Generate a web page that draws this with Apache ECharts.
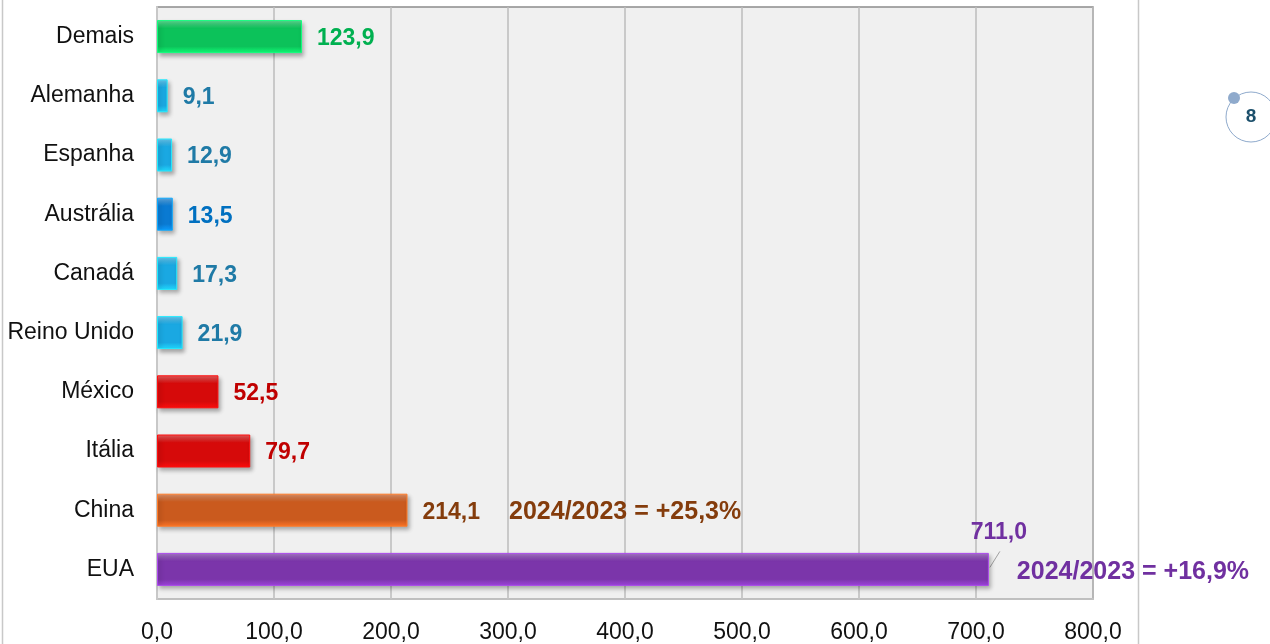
<!DOCTYPE html>
<html>
<head>
<meta charset="utf-8">
<script src="https://cdn.jsdelivr.net/npm/echarts@6/dist/echarts.min.js"></script>
<style>
  html, body { margin: 0; padding: 0; background: #fff; }
  #chart { width: 1270px; height: 644px; }
</style>
</head>
<body>
<div id="chart"></div>
<script>
// 数据:自上而下的类目与数值
var categories = ["Demais", "Alemanha", "Espanha", "Austrália", "Canadá", "Reino Unido", "México", "Itália", "China", "EUA"];
var values = [123.9, 9.1, 12.9, 13.5, 17.3, 21.9, 52.5, 79.7, 214.1, 711.0];
var xTicks = [0, 100, 200, 300, 400, 500, 600, 700, 800];
var growthChina = "2024/2023 = +25,3%";
var growthEUA = "2024/2023 = +16,9%";

// 样式:柱体颜色与标签颜色(与类目一一对应)
var barColors = ["#0cc25a", "#1aa8e2", "#1aa8e2", "#0a7ad2", "#1aa8e2", "#1aa8e2", "#d60a0a", "#d60a0a", "#ca5a1e", "#7b35aa"];
var labelColors = ["#00b050", "#1f7aa6", "#1f7aa6", "#0070c0", "#1f7aa6", "#1f7aa6", "#c00000", "#c00000", "#843c0c", "#7030a0"];

var FONT = "'Liberation Sans', Arial, sans-serif";

function fmt(v) { return v.toFixed(1).replace(".", ","); }

// 浅色→原色→深色的纵向渐变,模拟斜角立体柱
function bevel(c) {
  return new echarts.graphic.LinearGradient(0, 0, 0, 1, [
    { offset: 0, color: echarts.color.lift(c, 0.35) },
    { offset: 0.25, color: c },
    { offset: 0.8, color: c },
    { offset: 1, color: echarts.color.lift(c, -0.3) }
  ]);
}

var chart = echarts.init(document.getElementById("chart"), null, { renderer: "canvas" });

var seriesData = values.map(function (v, i) {
  var item = {
    value: v,
    itemStyle: { color: bevel(barColors[i]), borderColor: echarts.color.lift(barColors[i], -0.4), borderWidth: 1 },
    label: { color: labelColors[i] }
  };
  if (categories[i] === "China") {
    item.label.formatter = "{v|" + fmt(v) + "}{g|}{a|" + growthChina + "}";
  }
  if (categories[i] === "EUA") {
    item.label.formatter = "{a|" + growthEUA + "}";
    item.label.distance = 28;
    item.label.offset = [0, 3];
  }
  return item;
});

var option = {
  backgroundColor: "#fff",
  animation: false,
  grid: { left: 157, right: 177, top: 7, bottom: 44, show: true,
    backgroundColor: "#f0f0f0", borderColor: "#8c8c8c", borderWidth: 1.5 },
  xAxis: {
    type: "value", min: 0, max: 800, interval: 100,
    axisLine: { show: true, lineStyle: { color: "#c8c8c8", width: 1.5 } },
    axisTick: { show: false },
    axisLabel: { color: "#111", fontFamily: FONT, fontSize: 23, margin: 22,
      formatter: function (v) { return fmt(v); } },
    splitLine: { lineStyle: { color: "#bdbdbd", width: 1.5 } }
  },
  yAxis: {
    type: "category", data: categories, inverse: true,
    axisLine: { show: true, lineStyle: { color: "#c8c8c8", width: 2 } },
    axisTick: { show: false },
    axisLabel: { color: "#111", fontFamily: FONT, fontSize: 23, margin: 23, padding: [3, 0, 0, 0] }
  },
  series: [{
    type: "bar", data: seriesData, barWidth: 33,
    itemStyle: { shadowBlur: 4, shadowOffsetX: 2, shadowOffsetY: 3, shadowColor: "rgba(0,0,0,0.3)" },
    label: {
      show: true, position: "right", distance: 15, offset: [0, 2],
      fontFamily: FONT, fontSize: 23, fontWeight: "bold",
      formatter: function (p) { return fmt(p.value); },
      rich: {
        v: { fontFamily: FONT, fontSize: 23, fontWeight: "bold" },
        g: { width: 29 },
        a: { fontFamily: FONT, fontSize: 25, fontWeight: "bold" }
      }
    }
  }]
};
chart.setOption(option);

// EUA 数值标签置于柱端右上方,并用引导线连接
var iEUA = categories.indexOf("EUA");
var endPt = chart.convertToPixel({ seriesIndex: 0 }, [values[iEUA], categories[iEUA]]);
chart.setOption({
  graphic: [
    { type: "line", silent: true,
      shape: { x1: endPt[0] + 1, y1: endPt[1] - 2, x2: endPt[0] + 11, y2: endPt[1] - 18 },
      style: { stroke: "#a0a0a0", lineWidth: 1 } },
    { type: "text", silent: true, x: endPt[0] + 10, y: endPt[1] - 37,
      style: { text: fmt(values[iEUA]), fill: labelColors[iEUA], font: "bold 23px " + FONT,
        textAlign: "center", textVerticalAlign: "middle" } },
    // 页面装饰:左右竖线与页码徽标
    { type: "line", silent: true, shape: { x1: 2.5, y1: 0, x2: 2.5, y2: 644 },
      style: { stroke: "#c8c8c8", lineWidth: 1.5 } },
    { type: "line", silent: true, shape: { x1: 1138.5, y1: 0, x2: 1138.5, y2: 644 },
      style: { stroke: "#c8c8c8", lineWidth: 1.5 } },
    { type: "circle", silent: true, shape: { cx: 1251, cy: 117, r: 25 },
      style: { fill: "none", stroke: "#8faacc", lineWidth: 1 } },
    { type: "circle", silent: true, shape: { cx: 1234, cy: 98, r: 6 },
      style: { fill: "#8faacc" } },
    { type: "text", silent: true, x: 1251, y: 117,
      style: { text: "8", fill: "#1b4f6b", font: "bold 19px " + FONT, textAlign: "center", textVerticalAlign: "middle" } }
  ]
});

window.addEventListener("resize", function () { chart.resize(); });
</script>
</body>
</html>
